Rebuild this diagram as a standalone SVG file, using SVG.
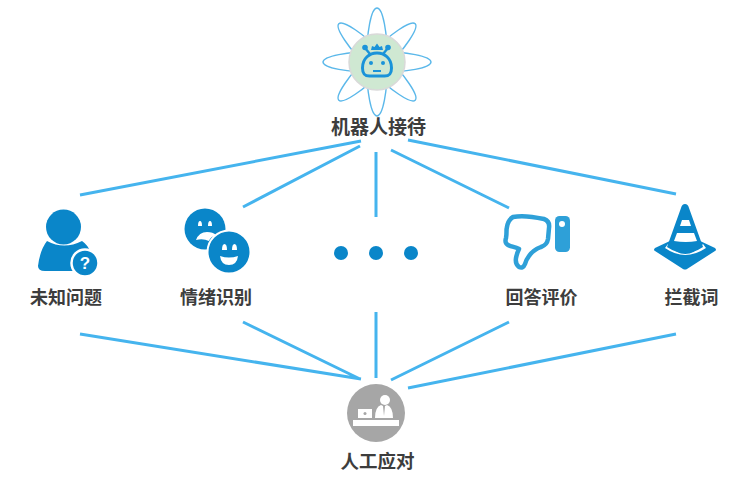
<svg xmlns="http://www.w3.org/2000/svg" width="744" height="477" viewBox="0 0 744 477">
<style>
.l{stroke:#45b4ee;stroke-width:3;fill:none;stroke-linecap:butt}
.t{font-family:"Noto Sans CJK SC","Liberation Sans",sans-serif;font-size:18px;font-weight:700;fill:#3d3d3d;text-anchor:middle}
.p{fill:none;stroke:#5bb8ea;stroke-width:1.4}
.b{fill:#0a86c9}
.w{fill:#fff}
.r{fill:#1a93d9}
</style>
<rect width="744" height="477" fill="#fff"/>
<g id="connectors">
<path class="l" d="M80 195L361 141M243 207L360 146M376 152V217M391 150L509 208M408 140L676 194"/>
<path class="l" d="M80 334L361 379M243 322L360 379M376 312V378M391 380L509 322M408 388L676 334"/>
</g>
<g id="robot">
<g id="petals">
<ellipse class="p" cx="377" cy="62" rx="10.500" ry="54"/>
<ellipse class="p" cx="377" cy="62" rx="10.500" ry="54" transform="rotate(45 377 62)"/>
<ellipse class="p" cx="377" cy="62" rx="54" ry="10.500"/>
<ellipse class="p" cx="377" cy="62" rx="10.500" ry="54" transform="rotate(135 377 62)"/>
</g>
<circle cx="377" cy="62" r="28" fill="#cfe8d2" stroke="#d9d9d9" stroke-width="1.500"/>
<path d="M362.500 68c0-20 29-20 29 0c0 6-2 8-7 8h-15c-5 0-7-2-7-8z" fill="none" stroke="#1a93d9" stroke-width="3"/>
<path d="M365 48l5 6M388 48l-5 6" stroke="#1a93d9" stroke-width="2.400" fill="none"/>
<circle class="r" cx="365" cy="47.500" r="2.800"/><circle class="r" cx="388" cy="47.500" r="2.800"/>
<path class="r" d="M371 50l1-4 2.500 1 2.500-3.500 2.500 3.500 2.500-1 1 4z"/>
<circle class="r" cx="371" cy="63" r="2"/><circle class="r" cx="383" cy="63" r="2"/>
<rect class="r" x="373" y="70" width="8" height="2"/>
<text class="t" x="378.500" y="134" style="font-size:19px">机器人接待</text>
</g>
<g id="unknown">
<circle class="b" cx="63.500" cy="227" r="17.500"/>
<path class="b" d="M47 241q17 9 35 0q6 4 9 12l-15 18h-31q-7 0-7-5q2-16 9-25z"/>
<circle class="b" cx="85" cy="263" r="13.500" stroke="#fff" stroke-width="2.500"/>
<text x="85" y="269" font-family="Liberation Sans,sans-serif" font-size="17" font-weight="700" fill="#fff" text-anchor="middle">?</text>
<text class="t" x="66" y="304">未知问题</text>
</g>
<g id="emotion">
<circle class="b" cx="205" cy="229" r="20.500"/>
<path class="w" d="M198 226q0-5 2-5t2 5zM208 226q0-5 2-5t2 5z"/>
<path class="w" d="M196 240q3-8 11-8 6 0 9 3-6 2-7 6-6-3-13-1z"/>
<circle class="b" cx="229" cy="252" r="21.500" stroke="#fff" stroke-width="2"/>
<path class="w" d="M222 250q0-6 2.500-6t2.500 6zM232 250q0-6 2.500-6t2.500 6z"/>
<path class="w" d="M220 256q9 3 18 0q-1 9-9 9t-9-9z"/>
<text class="t" x="216" y="304">情绪识别</text>
</g>
<g id="more" fill="#0a86c9">
<circle cx="341" cy="253" r="7"/><circle cx="376" cy="253" r="7"/><circle cx="411" cy="253" r="7"/>
</g>
<g id="feedback">
<path d="M513 217C522 215 535 217 544 219Q550 221 549 228L548 239Q547 245 541 247Q533 250 529 256Q526 260 525 264Q523 269 519 267Q515 264 516 258Q517 253 519 249C514 246 508 247 506 243Q505 241 506 238C507 233 506 230 507 227Q508 220 513 217z" fill="none" stroke="#2ea0d8" stroke-width="4.500" stroke-linejoin="round"/>
<rect x="555" y="216" width="15" height="36" rx="4.500" fill="#2ea0d8"/>
<circle cx="562" cy="224" r="3" fill="#fff"/>
<text class="t" x="541.500" y="304">回答评价</text>
</g>
<g id="intercept">
<path class="b" d="M672 240L655 248q-2 2 0 3l28 18q2 1 4 0l28-18q2-1 0-3l-17-8z"/>
<path class="w" d="M668 244Q685 264 703 244L706 248Q685 262 665 248z"/>
<path class="b" d="M685 204q3 0 4 4L703 247q-18 12-36 0L681 208q1-4 4-4z"/>
<path class="w" d="M682 220h7l2 6h-11zM677 233h17l3 8q-11 2-23 0z"/>
<text class="t" x="691.500" y="304">拦截词</text>
</g>
<g id="human">
<circle cx="376" cy="413" r="29" fill="#a6a6a6"/>
<circle cx="385" cy="400" r="5" fill="#fff"/>
<path d="M375 418q0-11 6-13l2 1 1 10 1-10 2-1q6 2 6 13z" fill="#fff"/>
<rect x="358" y="409" width="14" height="9" fill="#fff"/>
<rect x="353" y="420" width="46" height="6" fill="#fff"/>
<circle cx="365" cy="413.500" r="1.500" fill="#a6a6a6"/>
<text class="t" x="377.500" y="468" style="font-size:18.500px">人工应对</text>
</g>
</svg>
